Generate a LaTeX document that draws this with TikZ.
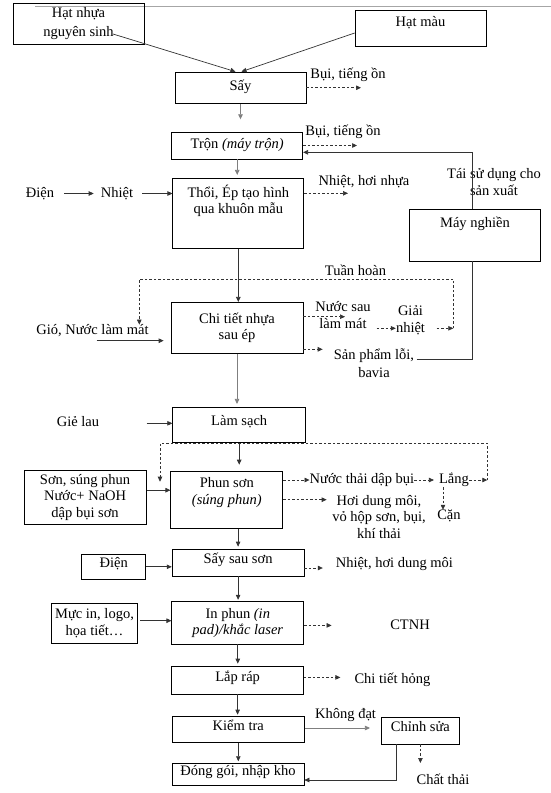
\documentclass[tikz,border=0pt]{standalone}
\usepackage{fontspec}
\setmainfont{Liberation Serif}
\newcommand{\flowfont}{\fontsize{14.5}{16.5}\selectfont}
\definecolor{PlantInk}{HTML}{000000}
\definecolor{PlantLine}{HTML}{333333}
\definecolor{PlantGray}{HTML}{7F7F7F}
\definecolor{PlantRule}{HTML}{A6A6A6}
\usetikzlibrary{arrows.meta}

\begin{document}
\begin{tikzpicture}[
        x=1pt, y=-1pt,
        stage/.style={
            draw=PlantInk,
            line width=0.7pt,
            minimum width=132pt,
            inner sep=1pt,
            text height=11pt,
            text depth=9pt,
            font=\flowfont
        },
        block/.style={
            draw=PlantInk,
            line width=0.7pt,
            inner sep=1pt,
            align=center,
            font=\flowfont
        },
        note/.style={
            inner sep=0pt,
            align=center,
            font=\flowfont
        },
        flow/.style={
            -{Triangle[length=5pt,width=4.5pt]},
            line width=0.7pt,
            draw=PlantLine
        },
        feedline/.style={
            flow,
            draw=PlantGray
        },
        waste/.style={
            flow,
            dash pattern=on 2.5pt off 2pt
        },
        link/.style={
            line width=0.7pt,
            draw=PlantLine
        }
    ]
        \useasboundingbox (0,0) rectangle (551,793);
        \coordinate (ruleA) at (35,6.5);
        \coordinate (ruleB) at (551,6.5);
        \draw[line width=1.2pt, draw=PlantRule] (ruleA) -- (ruleB);

        \node[block, minimum width=131pt, minimum height=40.5pt] (resin) at (78.5,23.8)
            {Hạt nhựa\\[2.5pt]nguyên sinh};
        \node[stage, minimum width=131pt, minimum height=36pt,
            text height=15.5pt, text depth=18.5pt] (pigment) at (420.5,28)
            {Hạt màu};
        \node[stage, minimum width=131pt, minimum height=31.5pt, text depth=6pt] (dry) at (240.5,87.75)
            {Sấy};
        \node[stage, minimum width=131pt, minimum height=26.3pt, text depth=6pt] (mix) at (237.2,145.8)
            {Trộn \textit{(máy trộn)}};
        \node[stage, align=center, minimum width=131pt, minimum height=70pt,
            text height=34.5pt, text depth=33.5pt] (mold) at (238.3,213.3)
            {Thổi, Ép tạo hình\\qua khuôn mẫu};
        \node[stage, minimum width=131pt, minimum height=51.5pt,
            text height=16.5pt, text depth=33pt] (crusher) at (475,235.25)
            {Máy nghiền};
        \node[block, minimum width=132pt, minimum height=51pt] (part) at (237,327.8)
            {Chi tiết nhựa\\sau ép};
        \node[stage, minimum width=133pt, minimum height=35pt] (clean) at (239.2,424.8)
            {Làm sạch};
        \node[stage, align=center, minimum width=112pt, minimum height=57.3pt,
            text height=32.3pt, text depth=23pt] (spray) at (226.8,499.7)
            {Phun sơn\\\textit{(súng phun)}};
        \node[block, minimum width=122.4pt, minimum height=54.4pt] (paintkit) at (85.1,497.2)
            {Sơn, súng phun\\Nước+ NaOH\\dập bụi sơn};
        \node[stage, minimum height=27pt] (redry) at (238.1,562.5)
            {Sấy sau sơn};
        \node[stage, minimum width=64pt, minimum height=25pt] (power) at (113.7,566.8)
            {Điện};
        \node[block, minimum width=132pt, minimum height=42.3pt] (print) at (237.8,622.8)
            {In phun \textit{(in}\\\textit{pad)/khắc laser}};
        \node[block, minimum width=85.6pt, minimum height=40pt] (ink) at (94.5,623.3)
            {Mực in, logo,\\họa tiết…};
        \node[stage, minimum height=28pt] (assemble) at (237.6,680)
            {Lắp ráp};
        \node[stage, minimum height=25.6pt] (check) at (238.3,729.5)
            {Kiểm tra};
        \node[stage, minimum height=21.7pt] (pack) at (238,774.2)
            {Đóng gói, nhập kho};
        \node[stage, minimum width=77.2pt, minimum height=26.6pt] (rework) at (420.4,730.7)
            {Chỉnh sửa};

        \node[note] (dust1) at (348,75) {Bụi, tiếng ồn};
        \node[note] (dust2) at (343,131.5) {Bụi, tiếng ồn};
        \node[note] (elec) at (40,193.5) {Điện};
        \node[note] (heat) at (117,193.5) {Nhiệt};
        \node[note] (fumes) at (364,182) {Nhiệt, hơi nhựa};
        \node[note] (reuse) at (494,182) {Tái sử dụng cho\\sản xuất};
        \node[note] (cycle) at (355.5,270.7) {Tuần hoàn};
        \node[note] (gust) at (92.5,331) {Gió, Nước làm mát};
        \node[note] (coolwater) at (343,315) {Nước sau\\làm mát};
        \node[note] (cooler) at (410.5,320.5) {Giải\\nhiệt};
        \node[note] (scrap) at (374,363) {Sản phẩm lỗi,\\[2pt]bavia};
        \node[note] (rag) at (78,422) {Giẻ lau};
        \node[note] (slurry) at (362,480) {Nước thải dập bụi};
        \node[note] (settle) at (454,480) {Lắng};
        \node[note] (sludge) at (449,516) {Cặn};
        \node[note] (vapour) at (379,516.8) {Hơi dung môi,\\vỏ hộp sơn, bụi,\\khí thải};
        \node[note] (solvent) at (394.4,564) {Nhiệt, hơi dung môi};
        \node[note] (hazard) at (410,624.7) {CTNH};
        \node[note] (broken) at (392.4,679.8) {Chi tiết hỏng};
        \node[note] (reject) at (345.6,714.9) {Không đạt};
        \node[note] (residue) at (443,779) {Chất thải};

        \coordinate (resintail) at (113,34);
        \coordinate (gustout) at (96.7,340.7);
        \coordinate (ragout) at (146.7,423.3);
        \coordinate (coolwaterout) at (376.7,328.3);
        \coordinate (coolerout) at (436.7,328.3);
        \coordinate (scrapout) at (416.7,359);
        \coordinate (cycledrop) at (453.3,328.3);
        \coordinate (cyclecorner) at (139.3,279);
        \coordinate (washdrop) at (487.3,480);
        \coordinate (washcorner) at (160,443.3);
        \coordinate (washin) at (160,481.7);
        \coordinate (dust1in) at (361,87.75);
        \coordinate (dust2in) at (357,145.5);
        \coordinate (fumesin) at (348,193.3);
        \coordinate (coolwaterin) at (345,316.7);
        \coordinate (scrapin) at (322.7,349.3);
        \coordinate (vapourin) at (326.7,499.7);
        \coordinate (solventin) at (322.8,568);
        \coordinate (hazardin) at (331.6,625.4);
        \coordinate (brokenin) at (340.4,677.4);
        \coordinate (residuein) at (420.4,763);

        \draw[flow] (resintail) -- ([xshift=-5pt]dry.north);
        \draw[flow] ([yshift=-5pt]pigment.west) -- ([xshift=1pt]dry.north);
        \draw[feedline, shorten >=13pt] (dry.south) -- (dry.south |- mix.north);
        \draw[feedline, shorten >=3pt] (mix.south) -- (mix.south |- mold.north);
        \draw[flow] ([xshift=10pt]elec.east) -- ([xshift=-7pt]heat.west);
        \draw[flow] ([xshift=9pt]heat.east) -- (heat.east -| mold.west);
        \draw[flow] (mold.south) -- (mold.south |- part.north);
        \draw[flow, shorten >=7pt] (gustout) -- (gustout -| part.west);
        \draw[feedline, shorten >=3pt] (part.south) -- (part.south |- clean.north);
        \draw[flow] (ragout) -- (ragout -| clean.west);
        \draw[flow, shorten >=6pt] (clean.south) -- (clean.south |- spray.north);
        \draw[flow] ([yshift=7pt]paintkit.east) -- ([yshift=7pt]paintkit.east -| spray.west);
        \draw[flow, shorten >=2pt] (redry.north |- spray.south) -- (redry.north);
        \draw[flow] (power.east) -- (power.east -| redry.west);
        \draw[flow, shorten >=1.5pt] (redry.south) -- (redry.south |- print.north);
        \draw[flow] ([xshift=2.7pt,yshift=2.6pt]ink.east) -- ([yshift=2.6pt]ink.east -| print.west);
        \draw[flow, shorten >=2pt] (print.south) -- (print.south |- assemble.north);
        \draw[flow, shorten >=1.7pt] (assemble.south) -- (assemble.south |- check.north);
        \draw[flow, shorten >=1.6pt] (check.south) -- (check.south |- pack.north);
        \draw[feedline, shorten >=11.5pt] ([yshift=1.5pt]check.east) -- ([yshift=1.5pt]check.east -| rework.west);
        \draw[flow] ([xshift=-24pt]rework.south) |- ([yshift=-5.8pt]pack.east);
        \draw[flow] ([xshift=-2.3pt]crusher.north) |- ([yshift=-6.5pt]mix.east);
        \draw[link] (scrapout) -| ([xshift=-2.3pt]crusher.south);

        \draw[waste] (dust1in -| dry.east) -- (dust1in);
        \draw[waste] (dust2in -| mix.east) -- (dust2in);
        \draw[waste] (fumesin -| mold.east) -- (fumesin);
        \draw[waste] (coolwaterin -| part.east) -- (coolwaterin);
        \draw[waste] (coolwaterout) -- (coolwaterout -| cooler.west);
        \draw[waste] (coolerout) -- (cycledrop);
        \draw[waste] (cycledrop) |- (cyclecorner) -- (cyclecorner |- gust.north);
        \draw[waste] (scrapin -| part.east) -- (scrapin);
        \draw[waste] (slurry.west -| spray.east) -- (slurry.west);
        \draw[waste] (slurry.east) -- ([xshift=-5pt]settle.west);
        \draw[waste] (settle.east) -- (washdrop);
        \draw[waste] (washdrop) |- (washcorner) -- (washin);
        \draw[waste] ([xshift=-11pt]settle.south) -- ([xshift=-11pt]settle.south |- sludge.north);
        \draw[waste] (vapourin -| spray.east) -- (vapourin);
        \draw[waste] (solventin -| redry.east) -- (solventin);
        \draw[waste] (hazardin -| print.east) -- (hazardin);
        \draw[waste] (brokenin -| assemble.east) -- (brokenin);
        \draw[waste] (rework.south) -- (residuein);
    \end{tikzpicture}
\end{document}
